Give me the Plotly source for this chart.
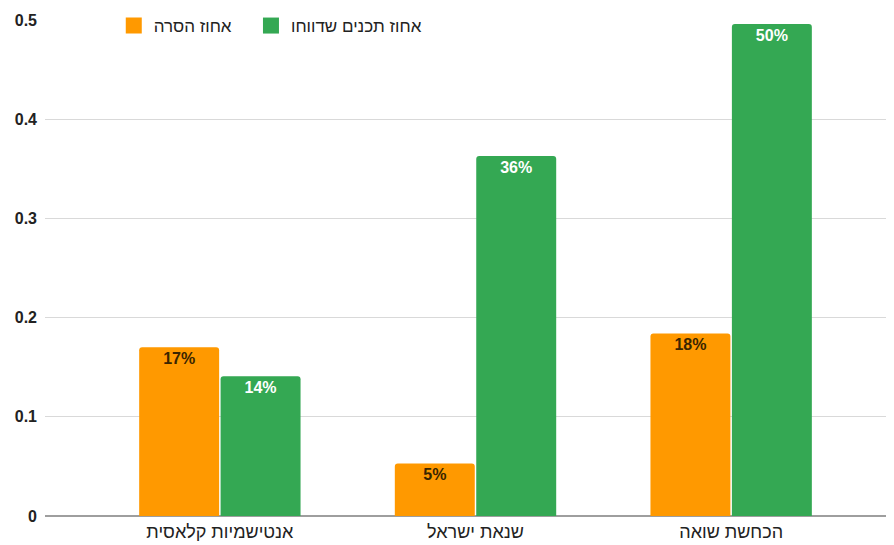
import plotly.graph_objects as go

categories = ["אנטישמיות קלאסית", "שנאת ישראל", "הכחשת שואה"]
series_names = ["אחוז הסרה", "אחוז תכנים שדווחו"]
removal_rate = [0.170, 0.053, 0.184]
reported_rate = [0.141, 0.363, 0.496]
y_ticks = [0, 0.1, 0.2, 0.3, 0.4, 0.5]
y_tick_labels = ["0", "0.1", "0.2", "0.3", "0.4", "0.5"]

ORANGE = "#FF9900"
GREEN = "#34A853"
FONT = "Arial, Liberation Sans, sans-serif"

fig = go.Figure()
fig.add_trace(go.Bar(
    x=categories, y=removal_rate, name=series_names[0], showlegend=False,
    marker=dict(color=ORANGE, cornerradius=3, line=dict(width=0)),
    texttemplate="<b>%{y:.0%}</b>", textposition="inside",
    insidetextanchor="end",
    insidetextfont=dict(color="#3a2500", size=16, family=FONT),
))
fig.add_trace(go.Bar(
    x=categories, y=reported_rate, name=series_names[1], showlegend=False,
    marker=dict(color=GREEN, cornerradius=3, line=dict(width=0)),
    texttemplate="<b>%{y:.0%}</b>", textposition="inside",
    insidetextanchor="end",
    insidetextfont=dict(color="#ffffff", size=16, family=FONT),
))
# legend entries with larger square swatches
for name, col, lg in zip(series_names, [ORANGE, GREEN], ["legend", "legend2"]):
    fig.add_trace(go.Scatter(
        x=[None], y=[None], mode="markers", name=name, legend=lg,
        marker=dict(symbol="square", size=16, color=col, line=dict(width=0)),
    ))

legend_style = dict(
    orientation="h", xanchor="left", y=0.988, yanchor="middle",
    bgcolor="rgba(255,255,255,0)", font=dict(size=17, color="#222222"),
    itemsizing="trace",
)
fig.update_layout(
    width=886, height=537,
    margin=dict(l=37, r=0, t=10, b=29),
    paper_bgcolor="white", plot_bgcolor="white",
    barmode="group", bargap=0.363, bargroupgap=0.018,
    font=dict(family=FONT, color="#222222", size=16),
    showlegend=True,
    legend=dict(x=0.081, **legend_style),
    legend2=dict(x=0.2426, **legend_style),
)
fig.update_xaxes(
    range=[-0.684, 2.637], showgrid=False, showline=False, ticks="",
    ticklabelstandoff=3,
    tickfont=dict(size=18, color="#222222", family=FONT),
)
fig.update_yaxes(
    range=[0, 0.5], tickvals=y_ticks,
    ticktext=["<b>%s</b>" % t for t in y_tick_labels],
    showgrid=True, gridcolor="#d9d9d9", gridwidth=1,
    zeroline=True, zerolinecolor="#9e9e9e", zerolinewidth=1.5,
    showline=False, ticks="", ticklabelstandoff=7,
    tickfont=dict(size=16, color="#222222", family=FONT),
)

fig.write_html("out.html")
